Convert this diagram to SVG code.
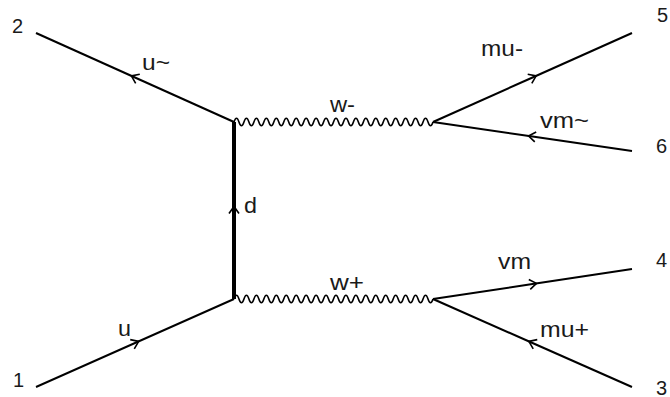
<svg xmlns="http://www.w3.org/2000/svg" width="670" height="397" viewBox="0 0 670 397">
<style>
.f{fill:none;stroke:#000;stroke-width:2;marker-mid:url(#chev)}
.thick{stroke-width:4}
.w{fill:none;stroke:#000;stroke-width:1.6}
.lbl{font-family:"Liberation Sans",Arial,sans-serif;font-size:22px;fill:#1a1a1a}
.num{font-family:"Liberation Sans",Arial,sans-serif;font-size:20px;fill:#1a1a1a}
</style>
<defs>
<marker id="chev" markerUnits="userSpaceOnUse" markerWidth="20" markerHeight="20" viewBox="-10 -10 20 20" refX="0" refY="0" orient="auto" overflow="visible">
<path d="M-3,-5 L4,0 L-3,5" fill="none" stroke="#000" stroke-width="1.6"/>
</marker>
<path id="wave" d="M0,0 q2.4875,-7.5 4.975,0 q2.4875,7.5 4.975,0 q2.4875,-7.5 4.975,0 q2.4875,7.5 4.975,0 q2.4875,-7.5 4.975,0 q2.4875,7.5 4.975,0 q2.4875,-7.5 4.975,0 q2.4875,7.5 4.975,0 q2.4875,-7.5 4.975,0 q2.4875,7.5 4.975,0 q2.4875,-7.5 4.975,0 q2.4875,7.5 4.975,0 q2.4875,-7.5 4.975,0 q2.4875,7.5 4.975,0 q2.4875,-7.5 4.975,0 q2.4875,7.5 4.975,0 q2.4875,-7.5 4.975,0 q2.4875,7.5 4.975,0 q2.4875,-7.5 4.975,0 q2.4875,7.5 4.975,0 q2.4875,-7.5 4.975,0 q2.4875,7.5 4.975,0 q2.4875,-7.5 4.975,0 q2.4875,7.5 4.975,0 q2.4875,-7.5 4.975,0 q2.4875,7.5 4.975,0 q2.4875,-7.5 4.975,0 q2.4875,7.5 4.975,0 q2.4875,-7.5 4.975,0 q2.4875,7.5 4.975,0 q2.4875,-7.5 4.975,0 q2.4875,7.5 4.975,0 q2.4875,-7.5 4.975,0 q2.4875,7.5 4.975,0 q2.4875,-7.5 4.975,0 q2.4875,7.5 4.975,0 q2.4875,-7.5 4.975,0 q2.4875,7.5 4.975,0 q2.4875,-7.5 4.975,0 q2.4875,7.5 4.975,0"/>
</defs>
<g id="connectors">
<path id="e-u" class="f" d="M36,387 L135,343 L234,299"/>
<path id="e-ubar" class="f" d="M234,122 L135,77.5 L36,33"/>
<path id="e-d" class="f thick" d="M234,299 L234,210.5 L234,122"/>
<path id="e-mum" class="f" d="M433,122 L532.5,77.5 L632,33"/>
<path id="e-vmbar" class="f" d="M632,151 L532.5,136.5 L433,122"/>
<path id="e-vm" class="f" d="M433,299 L532.5,284 L632,269"/>
<path id="e-mup" class="f" d="M632,387 L532.5,343 L433,299"/>
<use id="e-wm" href="#wave" class="w" x="234" y="122"/>
<use id="e-wp" href="#wave" class="w" x="234" y="299"/>
<text class="lbl" x="142" y="70" textLength="28" lengthAdjust="spacingAndGlyphs">u~</text>
<text class="lbl" x="330" y="112" textLength="25" lengthAdjust="spacingAndGlyphs">w-</text>
<text class="lbl" x="481" y="56" textLength="42" lengthAdjust="spacingAndGlyphs">mu-</text>
<text class="lbl" x="540" y="128" textLength="49" lengthAdjust="spacingAndGlyphs">vm~</text>
<text class="lbl" x="244" y="213" textLength="13" lengthAdjust="spacingAndGlyphs">d</text>
<text class="lbl" x="330" y="290" textLength="34" lengthAdjust="spacingAndGlyphs">w+</text>
<text class="lbl" x="498" y="269" textLength="33" lengthAdjust="spacingAndGlyphs">vm</text>
<text class="lbl" x="540" y="337" textLength="49" lengthAdjust="spacingAndGlyphs">mu+</text>
<text class="lbl" x="118" y="336" textLength="13" lengthAdjust="spacingAndGlyphs">u</text>
</g>
<g id="n1"><text class="num" x="13" y="387">1</text></g>
<g id="n2"><text class="num" x="12" y="33">2</text></g>
<g id="n3"><text class="num" x="656" y="395">3</text></g>
<g id="n4"><text class="num" x="656" y="267">4</text></g>
<g id="n5"><text class="num" x="657" y="22">5</text></g>
<g id="n6"><text class="num" x="656" y="153">6</text></g>
</svg>
